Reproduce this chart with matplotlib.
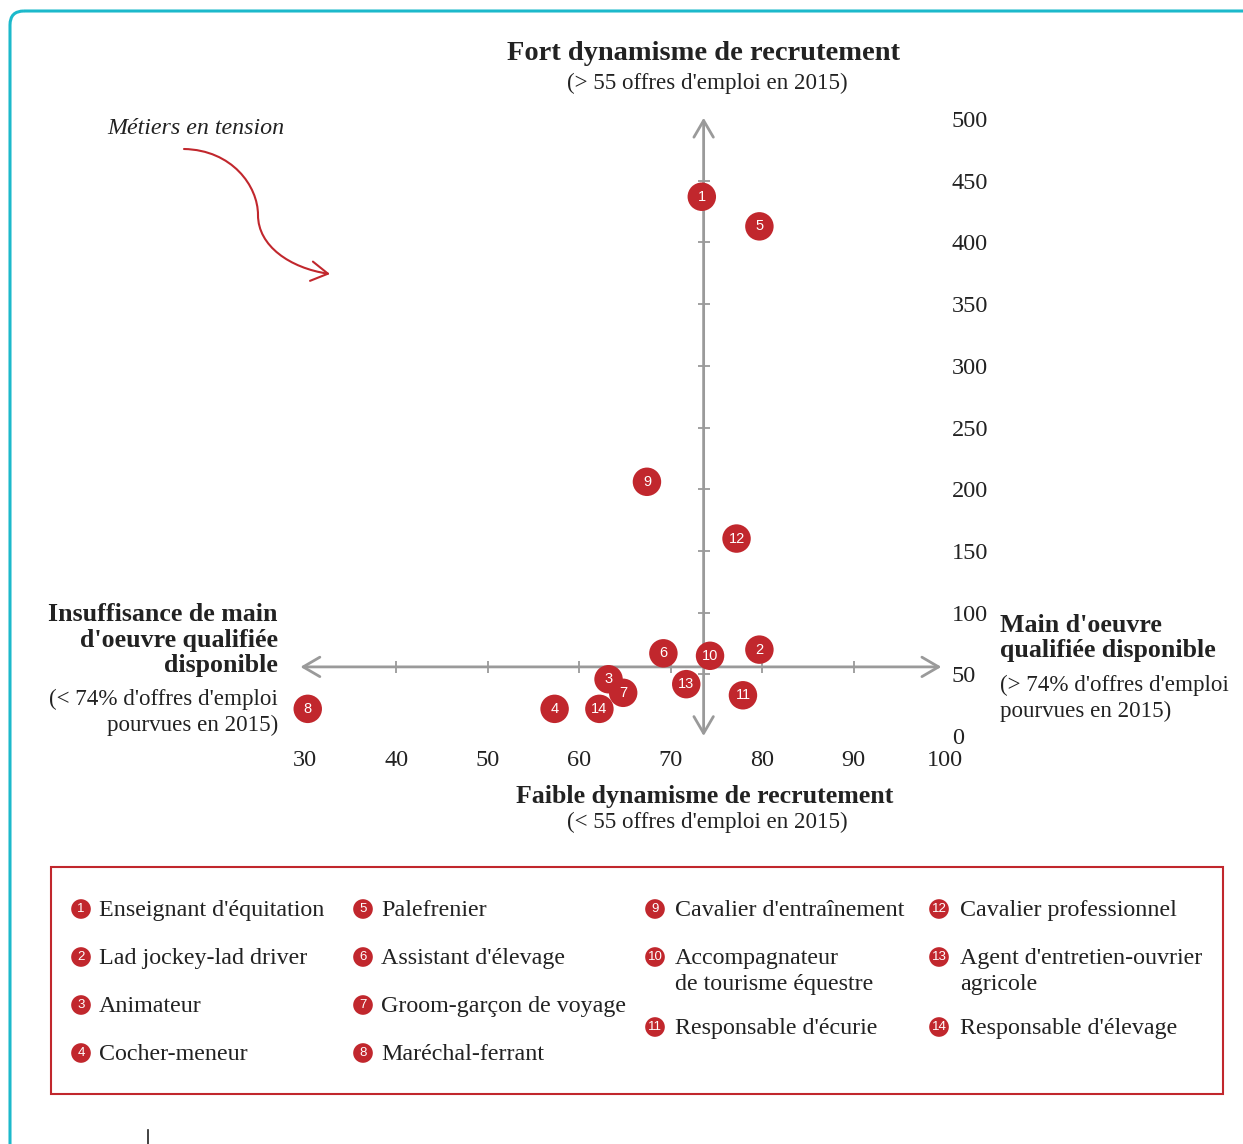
import matplotlib
matplotlib.use("Agg")
import matplotlib.pyplot as plt
from matplotlib.path import Path
from matplotlib.patches import FancyArrowPatch, FancyBboxPatch, Rectangle

plt.rcParams['font.family'] = ['Liberation Serif', 'DejaVu Serif']

# data
ids = list(range(1, 15))
names = ["Enseignant d'équitation", "Lad jockey-lad driver", "Animateur", "Cocher-meneur",
         "Palefrenier", "Assistant d'élevage", "Groom-garçon de voyage", "Maréchal-ferrant",
         "Cavalier d'entraînement", "Accompagnateur\nde tourisme équestre", "Responsable d'écurie",
         "Cavalier professionnel", "Agent d'entretien-ouvrier\nagricole", "Responsable d'élevage"]
pct_filled = [73.4, 79.7, 63.2, 57.3, 79.7, 69.2, 64.8, 30.3, 67.4, 74.3, 77.9, 77.2, 71.7, 62.2]
offers = [437, 70, 46, 22, 413, 67, 35, 22, 206, 65, 33, 160, 42, 22]

x_ticks = [30, 40, 50, 60, 70, 80, 90, 100]
y_ticks = [0, 50, 100, 150, 200, 250, 300, 350, 400, 450, 500]
x_cross = 73.6
y_cross = 56

RED = '#c1272d'
GREY = '#9a9a9a'
TXT = '#222222'

fig = plt.figure(figsize=(12.43, 11.44), dpi=100)

# overlay in pixel coords for the decoration
ov = fig.add_axes([0, 0, 1, 1], zorder=0)
ov.set_xlim(0, 1243)
ov.set_ylim(1144, 0)
ov.axis('off')
ov.patch.set_alpha(0)


def stack(x, y, text, step=25.5, **kw):
    # one text per line, y = baseline of the first line
    for j, line in enumerate(text.split('\n')):
        ov.text(x, y + j * step, line, va='baseline', color=TXT, **kw)


ov.add_patch(FancyBboxPatch((10, 11), 1300, 1200, boxstyle="round,pad=0,rounding_size=14",
                            fc='none', ec='#1cb9cb', lw=2.2))
ov.plot([148, 148], [1130, 1144], color='#222222', lw=1.2)

ov.text(704, 53, "Fort dynamisme de recrutement", ha='center', va='center',
        fontsize=20.5, fontweight='bold', color=TXT)
ov.text(707, 83, "(> 55 offres d'emploi en 2015)", ha='center', va='center', fontsize=16.6, color=TXT)
ov.text(705, 797, "Faible dynamisme de recrutement", ha='center', va='center',
        fontsize=18.6, fontweight='bold', color=TXT)
ov.text(707, 822, "(< 55 offres d'emploi en 2015)", ha='center', va='center', fontsize=16.6, color=TXT)

stack(278, 621, "Insuffisance de main\nd'oeuvre qualifiée\ndisponible", ha='right',
      fontsize=18.6, fontweight='bold')
stack(278, 705, "(< 74% d'offres d'emploi\npourvues en 2015)", ha='right', fontsize=16.6)
stack(1000, 632, "Main d'oeuvre\nqualifiée disponible", ha='left', fontsize=18.6, fontweight='bold')
stack(1000, 691, "(> 74% d'offres d'emploi\npourvues en 2015)", ha='left', fontsize=16.6)

ov.text(196, 128, "Métiers en tension", ha='center', va='center', fontsize=17.3,
        style='italic', color=TXT)
curve = Path([(184, 149), (232, 150), (258, 186), (258, 215), (258, 246), (290, 268), (330, 274)],
             [Path.MOVETO, Path.CURVE4, Path.CURVE4, Path.CURVE4, Path.CURVE4, Path.CURVE4, Path.CURVE4])
ov.add_patch(FancyArrowPatch(path=curve, arrowstyle='->,head_length=0.6,head_width=0.35',
                             mutation_scale=20, color=RED, lw=1.5))

# legend box
ov.add_patch(Rectangle((51, 867), 1172, 227, fc='none', ec=RED, lw=1.5))
col_x = [81, 363, 655, 939]
text_x = [99, 381, 675, 960]
col_rows = [[909, 957, 1005, 1053], [909, 957, 1005, 1053], [909, 957, 1027], [909, 957, 1027]]
k = 0
for c, rows in enumerate(col_rows):
    for ry in rows:
        ov.scatter([col_x[c]], [ry], s=200, color=RED, zorder=3, edgecolors='none')
        ov.text(col_x[c], ry + 0.5, str(ids[k]), ha='center', va='center', color='white',
                fontsize=9.5, family='Liberation Sans', zorder=4)
        stack(text_x[c], ry + 7, names[k], step=26, ha='left', fontsize=17.3)
        k += 1

# main chart
ax = fig.add_axes([305 / 1243, 1 - 736 / 1144, 640 / 1243, 617 / 1144], zorder=2)
ax.patch.set_alpha(0)
ax.set_xlim(30, 100)
ax.set_ylim(0, 500)
for s in ax.spines.values():
    s.set_visible(False)

ax.annotate('', xy=(29.5, y_cross), xytext=(99.6, y_cross), annotation_clip=False,
            arrowprops=dict(arrowstyle='<->,head_length=0.6,head_width=0.35', color=GREY, lw=2,
                            shrinkA=0, shrinkB=0, mutation_scale=20))
ax.annotate('', xy=(x_cross, 0), xytext=(x_cross, 501), annotation_clip=False,
            arrowprops=dict(arrowstyle='<->,head_length=0.6,head_width=0.35', color=GREY, lw=2,
                            shrinkA=0, shrinkB=0, mutation_scale=20))
ax.plot(x_ticks[1:-1], [y_cross] * (len(x_ticks) - 2), ls='none', marker='|', ms=9,
        mew=1.3, color=GREY, clip_on=False)
ax.plot([x_cross] * (len(y_ticks) - 2), y_ticks[1:-1], ls='none', marker='_', ms=9,
        mew=1.3, color=GREY, clip_on=False)

ax.scatter(pct_filled, offers, s=420, color=RED, zorder=5, clip_on=False, edgecolors='none')
for i, xv, yv in zip(ids, pct_filled, offers):
    ax.text(xv, yv, str(i), ha='center', va='center', color='white', fontsize=10.5,
            family='Liberation Sans', zorder=6)

ax.set_xticks(x_ticks)
ax.set_yticks(y_ticks)
ax.tick_params(axis='x', length=0, pad=10, labelsize=17.5, labelcolor=TXT)
ax.tick_params(axis='y', length=0, pad=5, labelsize=17.5, labelcolor=TXT,
               left=False, labelleft=False, right=False, labelright=True)

fig.savefig('out.png', dpi=100)
